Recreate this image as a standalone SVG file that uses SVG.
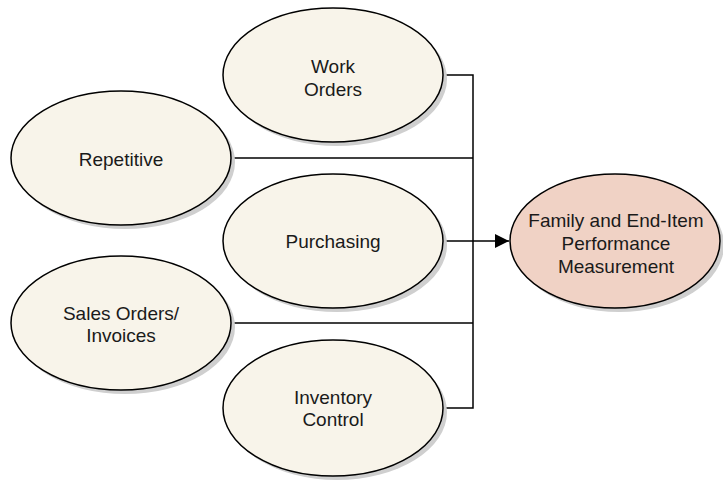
<svg xmlns="http://www.w3.org/2000/svg" width="723" height="480" viewBox="0 0 723 480">
<style>
.sh{fill:#cfcfcf}
.n{fill:#f8f4ea;stroke:#000;stroke-width:1.5}
.t{fill:#f0d2c5;stroke:#000;stroke-width:1.5}
text{font-family:"Liberation Sans",Arial,sans-serif;font-size:19px;fill:#1a1a1a;text-anchor:middle}
.c{fill:none;stroke:#000;stroke-width:1.5}
</style>
<defs>
<marker id="arr" viewBox="0 0 10 10" refX="10" refY="5" markerWidth="14" markerHeight="14" markerUnits="userSpaceOnUse" orient="auto"><path d="M0,0L10,5L0,10z" fill="#000"/></marker>
</defs>
<rect width="723" height="480" fill="#fff"/>
<g id="connectors">
<path class="c" d="M443,75H473V408H443"/>
<path class="c" d="M232,158H473"/>
<path class="c" d="M232,323H473"/>
<path class="c" d="M443,241H509" marker-end="url(#arr)"/>
</g>
<g id="work-orders">
<ellipse class="sh" cx="337" cy="79" rx="110" ry="67"/>
<ellipse class="n" cx="333" cy="75" rx="110" ry="67"/>
<text x="333" y="73">Work</text>
<text x="333" y="96">Orders</text>
</g>
<g id="repetitive">
<ellipse class="sh" cx="125" cy="162" rx="110" ry="67"/>
<ellipse class="n" cx="121" cy="158" rx="110" ry="67"/>
<text x="121" y="166">Repetitive</text>
</g>
<g id="purchasing">
<ellipse class="sh" cx="337" cy="245" rx="110" ry="67"/>
<ellipse class="n" cx="333" cy="241" rx="110" ry="67"/>
<text x="333" y="248">Purchasing</text>
</g>
<g id="sales-orders">
<ellipse class="sh" cx="125" cy="327" rx="110" ry="67"/>
<ellipse class="n" cx="121" cy="323" rx="110" ry="67"/>
<text x="121" y="320">Sales Orders/</text>
<text x="121" y="342">Invoices</text>
</g>
<g id="inventory-control">
<ellipse class="sh" cx="337" cy="412" rx="110" ry="68"/>
<ellipse class="n" cx="333" cy="408" rx="110" ry="68"/>
<text x="333" y="404">Inventory</text>
<text x="333" y="426">Control</text>
</g>
<g id="performance">
<ellipse class="sh" cx="619" cy="245" rx="105" ry="67"/>
<ellipse class="t" cx="615" cy="241" rx="105" ry="67"/>
<text x="616" y="227">Family and End-Item</text>
<text x="616" y="250">Performance</text>
<text x="616" y="273">Measurement</text>
</g>
</svg>
